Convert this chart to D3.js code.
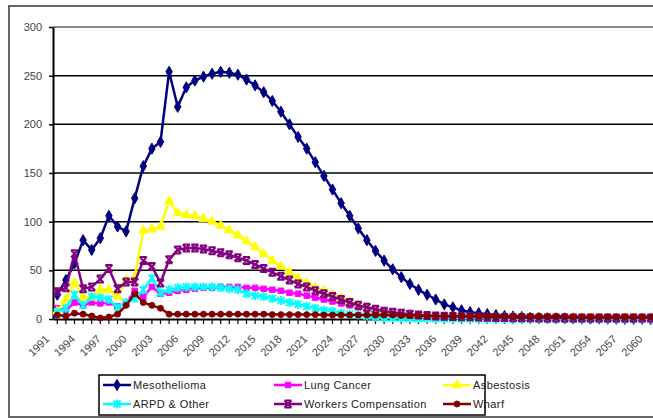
<!DOCTYPE html>
<html>
<head>
<meta charset="utf-8">
<script src="https://cdn.jsdelivr.net/npm/d3@7"></script>
<style>
body { margin: 0; background: #fff; }
svg { display: block; font-family: "Liberation Sans", Arial, sans-serif; }
</style>
</head>
<body>
<svg width="653" height="419"></svg>
<script>
"use strict";

// yearly values, 1991 - 2060
var years = d3.range(1991, 2061);

var mesothelioma = [25, 40, 57, 81, 71, 83, 106, 95, 90, 124,
    157, 175, 182, 254, 218, 238, 245, 249, 252, 254,
    253, 251, 246, 240, 233, 224, 213, 200, 187, 175,
    161, 147, 133, 119, 106, 93, 81, 70, 60, 51,
    43, 36, 30, 25, 20, 15, 12, 9, 7, 6,
    5, 4, 3, 2.5, 2, 1.5, 1.2, 1, 0.8, 0.7,
    0.6, 0.5, 0.4, 0.4, 0.3, 0.3, 0.2, 0.2, 0.2, 0.1];

var lungCancer = [11, 9, 17, 14, 17, 16, 17, 13, 16, 29,
    23, 33, 26, 27, 29, 30, 31, 32, 32, 33,
    33, 33, 32, 32, 31, 30, 29, 27, 26, 24,
    22, 20, 18, 16, 14, 12, 10, 8, 7, 5,
    4, 3.5, 3, 2.5, 2.2, 2, 2, 2, 2, 2,
    2, 2, 2, 2, 2, 2, 2, 2, 2, 2,
    2, 2, 2, 2, 2, 2, 2, 2, 2, 2];

var asbestosis = [8, 20, 37, 22, 22, 30, 30, 23, 40, 43,
    91, 92, 95, 121, 109, 107, 106, 103, 100, 96,
    91, 86, 80, 74, 67, 60, 54, 48, 42, 37,
    32, 29, 25, 22, 18, 15, 12, 8, 6, 4,
    3, 2.5, 2, 1.8, 1.6, 1.5, 1.4, 1.3, 1.2, 1.1,
    1, 1, 1, 1, 1, 1, 1, 1, 1, 1,
    1, 1, 1, 1, 1, 1, 1, 1, 1, 1];

var arpdOther = [7, 11, 25, 14, 23, 22, 20, 12, 17, 21,
    30, 42, 27, 30, 32, 33, 33, 33, 33, 32,
    31, 30, 26, 24, 23, 21, 19, 17, 15, 13,
    11, 9, 8, 6, 5, 4, 3, 2, 1.5, 1,
    0.8, 0.6, 0.5, 0.4, 0.3, 0.3, 0.2, 0.2, 0.1, 0.1,
    0, 0, 0, 0, 0, 0, 0, 0, 0, 0,
    0, 0, 0, 0, 0, 0, 0, 0, 0, 0];

var workersComp = [28, 32, 67, 31, 33, 41, 52, 31, 38, 38,
    60, 54, 37, 61, 71, 73, 73, 72, 70, 68,
    66, 63, 60, 56, 52, 48, 44, 40, 36, 33,
    29, 26, 23, 20, 17, 14, 12, 10, 8, 7,
    6, 5, 4, 3.5, 3, 2.8, 2.6, 2.4, 2.2, 2,
    1.8, 1.6, 1.5, 1.4, 1.3, 1.2, 1.1, 1, 1, 1,
    1, 1, 1, 1, 1, 1, 1, 1, 1, 1];

var wharf = [4, 3, 6, 5, 3, 1, 2, 5, 14, 26,
    17, 14, 11, 5, 5, 5, 5, 5, 5, 5,
    5, 5, 5, 5, 5, 4.5, 4.5, 4.5, 4.5, 4.5,
    4.5, 4, 4, 4, 4, 4, 4, 4, 4, 4,
    3.5, 3.5, 3.5, 3, 3, 3, 3, 3, 3, 3,
    2.5, 2.5, 2.5, 2.5, 2.5, 2.5, 2.5, 2.5, 2.5, 2.5,
    2, 2, 2, 2, 2, 2, 2, 2, 2, 2];

var yTicks = [0, 50, 100, 150, 200, 250, 300];

var series = [
    {name: "Mesothelioma", values: mesothelioma, color: "#000080", marker: "diamond"},
    {name: "Lung Cancer", values: lungCancer, color: "#ff00ff", marker: "square"},
    {name: "Asbestosis", values: asbestosis, color: "#ffff00", marker: "triangle"},
    {name: "ARPD & Other", values: arpdOther, color: "#00ffff", marker: "asterisk"},
    {name: "Workers Compensation", values: workersComp, color: "#800080", marker: "star"},
    {name: "Wharf", values: wharf, color: "#800000", marker: "circle"}
];

var svg = d3.select("svg");

// outer chart frame
svg.append("rect").attr("x", 9).attr("y", 6).attr("width", 660).attr("height", 411)
    .attr("fill", "none").attr("stroke", "#666").attr("stroke-width", 2);

var x = d3.scaleBand().domain(years).range([53, 53 + years.length * 8.6]);
var y = d3.scaleLinear().domain([0, 300]).range([319, 27]);
var bw = x.bandwidth();
function cx(i) { return x(years[i]) + bw / 2; }

// gridlines
svg.append("g").selectAll("line").data(yTicks.filter(function(d){ return d > 0; }))
    .enter().append("line")
    .attr("x1", 53).attr("x2", 653)
    .attr("y1", function(d){ return y(d); }).attr("y2", function(d){ return y(d); })
    .attr("stroke", function(d){ return d == 300 ? "#888" : "#000"; })
    .attr("stroke-width", function(d){ return d == 300 ? 2 : 1.5; });

// y axis
var yAxis = svg.append("g").attr("transform", "translate(53,0)")
    .call(d3.axisLeft(y).tickValues(yTicks).tickSize(4).tickSizeOuter(0).tickPadding(7));
yAxis.select(".domain").attr("stroke", "#000").attr("stroke-width", 2);
yAxis.selectAll(".tick line").attr("stroke", "#000").attr("stroke-width", 1.5);
yAxis.selectAll("text").attr("font-size", 11).attr("fill", "#444")
    .attr("font-family", "Liberation Sans, Arial, sans-serif");

// x axis
var xAxis = svg.append("g").attr("transform", "translate(0,319)")
    .call(d3.axisBottom(x).tickSize(5).tickSizeOuter(0)
        .tickFormat(function(d){ return (d - 1991) % 3 == 0 ? d : ""; }));
xAxis.select(".domain").attr("stroke", "#000").attr("stroke-width", 2);
xAxis.selectAll(".tick line").attr("stroke", "#000").attr("stroke-width", 1.2);
xAxis.selectAll("text").attr("font-size", 11).attr("fill", "#444")
    .attr("font-family", "Liberation Sans, Arial, sans-serif")
    .attr("text-anchor", "end").attr("x", 0).attr("y", 0).attr("dy", "0.35em")
    .attr("transform", "translate(-10,18) rotate(-45)");

// marker shapes
function markerPath(kind) {
    if (kind == "diamond") return d3.symbol(d3.symbolDiamond, 36)();
    if (kind == "square") return d3.symbol(d3.symbolSquare, 30)();
    if (kind == "triangle") return d3.symbol(d3.symbolTriangle, 36)();
    if (kind == "circle") return d3.symbol(d3.symbolCircle, 28)();
    if (kind == "asterisk") return "M-3.5,-3.5L3.5,3.5M-3.5,3.5L3.5,-3.5M0,-4.5L0,4.5";
    return "M-3.5,-3.5L3.5,3.5M-3.5,3.5L3.5,-3.5M-3.5,-3.5L3.5,-3.5M-3.5,3.5L3.5,3.5";
}
function drawMarker(sel, s) {
    var stroked = s.marker == "asterisk" || s.marker == "star";
    sel.attr("d", markerPath(s.marker))
        .attr("fill", stroked ? "none" : s.color)
        .attr("stroke", s.color)
        .attr("stroke-width", stroked ? 2 : 1);
}

var line = d3.line().x(function(d, i){ return cx(i); }).y(function(d){ return y(d); });

var plot = svg.append("g");
series.forEach(function(s) {
    var g = plot.append("g");
    g.append("path").datum(s.values).attr("d", line)
        .attr("fill", "none").attr("stroke", s.color).attr("stroke-width", 2.5)
        .attr("stroke-linejoin", "round");
    g.selectAll("path.m").data(s.values).enter().append("path").attr("class", "m")
        .attr("transform", function(d, i){ return "translate(" + cx(i) + "," + y(d) + ")"; })
        .call(drawMarker, s);
});

// legend
var legend = svg.append("g");
legend.append("rect").attr("x", 99).attr("y", 375).attr("width", 386).attr("height", 40)
    .attr("fill", "#fff").attr("stroke", "#000").attr("stroke-width", 1.5);
var colX = [103, 274, 443];
var rowY = [385, 404];
series.forEach(function(s, i) {
    var lx = colX[i % 3], ly = rowY[Math.floor(i / 3)];
    var item = legend.append("g").attr("transform", "translate(" + lx + "," + ly + ")");
    item.append("line").attr("x1", 0).attr("x2", 28).attr("y1", 0).attr("y2", 0)
        .attr("stroke", s.color).attr("stroke-width", 2.5);
    item.append("path").attr("transform", "translate(14,0)").call(drawMarker, s);
    item.append("text").attr("x", 30).attr("y", 0).attr("dy", "0.35em")
        .attr("font-size", 11).attr("fill", "#222").attr("letter-spacing", 0.4)
        .text(s.name);
});
</script>
</body>
</html>
